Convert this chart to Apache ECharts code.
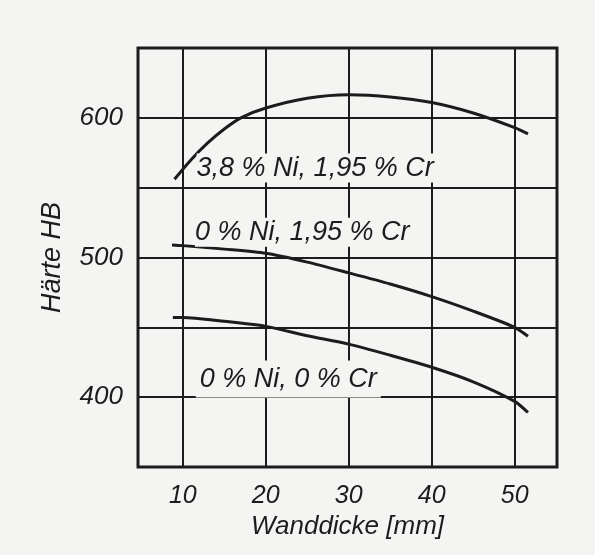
<!DOCTYPE html>
<html>
<head>
<meta charset="utf-8">
<script src="https://cdn.jsdelivr.net/npm/echarts@6/dist/echarts.min.js"></script>
<style>
  html, body { margin: 0; padding: 0; background: #f4f4f2; }
  #chart { width: 595px; height: 555px; }
</style>
</head>
<body>
<div id="chart"></div>
<script>
// Wanddicke [mm] und Härte HB
const xTicks = [10, 20, 30, 40, 50];
const yTickLabels = [400, 500, 600];

const xNiCr = [9, 11, 13, 15, 17, 20, 25, 30, 35, 40, 45, 50, 51.6];
const yNiCr = [556, 570, 582, 592, 600, 607, 614, 616.5, 615, 611, 603.5, 593, 588.5];

const xCr = [8.7, 10, 15, 20, 25, 30, 35, 40, 45, 50, 51.6];
const yCr = [509, 508.5, 506, 503, 496.7, 489, 481, 472, 461.6, 450, 443.6];

const xPlain = [8.8, 10, 15, 20, 25, 30, 35, 40, 45, 50, 51.6];
const yPlain = [457, 457, 454.3, 450.7, 444, 438, 430, 421.4, 411, 397, 389];

const curveNames = ['3,8 % Ni, 1,95 % Cr', '0 % Ni, 1,95 % Cr', '0 % Ni, 0 % Cr'];
const labelCoords = [[11.6, 564], [11.4, 518], [11.5, 413]];

const ink = '#1c1c1c';
const bg = '#f4f4f2';
const font = '"Liberation Sans", Arial, sans-serif';

function pairs(xs, ys) {
    return xs.map((x, i) => [x, ys[i]]);
}

function curve(name, xs, ys, idx) {
    return {
        name: name,
        type: 'line',
        data: pairs(xs, ys),
        smooth: 0.25,
        showSymbol: false,
        z: 3,
        lineStyle: { color: ink, width: 3 },
        markPoint: {
            symbol: 'circle',
            symbolSize: 1,
            itemStyle: { color: 'transparent' },
            data: [{ coord: labelCoords[idx] }],
            label: {
                show: true,
                position: 'right',
                distance: 0,
                formatter: name,
                color: ink,
                fontFamily: font,
                fontStyle: 'italic',
                fontSize: 27,
                backgroundColor: bg,
                padding: idx === 2 ? [0, 4, 10, 4] : [0, 4, 2, 0]
            }
        }
    };
}

const chart = echarts.init(document.getElementById('chart'));
const option = {
    backgroundColor: bg,
    animation: false,
    grid: {
        left: 138, right: 38, top: 48, bottom: 88,
        show: true, borderColor: ink, borderWidth: 3
    },
    xAxis: {
        type: 'value',
        min: 4.6,
        max: 55.1,
        name: 'Wanddicke [mm]',
        nameLocation: 'middle',
        nameGap: 45,
        nameTextStyle: { color: ink, fontFamily: font, fontStyle: 'italic', fontSize: 26 },
        axisLine: { show: false },
        axisTick: { show: false },
        splitLine: { show: false },
        axisLabel: {
            customValues: xTicks,
            margin: 17,
            color: ink, fontFamily: font, fontStyle: 'italic', fontSize: 25
        }
    },
    yAxis: {
        type: 'value',
        min: 350,
        max: 650,
        interval: 50,
        name: 'Härte HB',
        nameLocation: 'middle',
        nameGap: 72,
        nameRotate: 90,
        nameTextStyle: { color: ink, fontFamily: font, fontStyle: 'italic', fontSize: 27 },
        axisLine: { show: false },
        axisTick: { show: false },
        splitLine: { show: true, lineStyle: { color: ink, width: 2 } },
        axisLabel: {
            margin: 15,
            color: ink, fontFamily: font, fontStyle: 'italic', fontSize: 26,
            formatter: v => yTickLabels.includes(v) ? String(v) : ''
        }
    },
    series: [
        {
            type: 'line',
            data: [],
            z: 1,
            silent: true,
            markLine: {
                silent: true,
                symbol: 'none',
                label: { show: false },
                lineStyle: { color: ink, width: 2, type: 'solid' },
                data: xTicks.map(v => ({ xAxis: v }))
            }
        },
        curve(curveNames[0], xNiCr, yNiCr, 0),
        curve(curveNames[1], xCr, yCr, 1),
        curve(curveNames[2], xPlain, yPlain, 2)
    ]
};
chart.setOption(option);
</script>
</body>
</html>
